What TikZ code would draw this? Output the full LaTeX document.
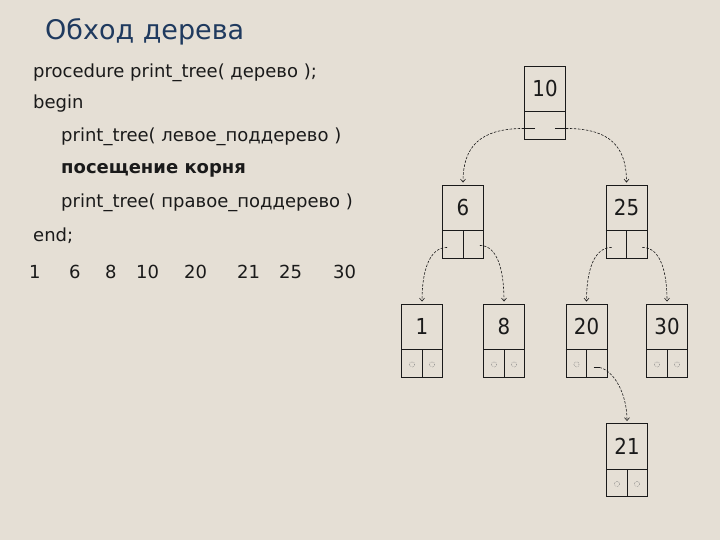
\documentclass[tikz,border=0pt]{standalone}
\usepackage{fontspec}
\setmainfont{DejaVu Sans}
\newfontfamily\numfont{DejaVu Sans}[FakeStretch=0.9]
\usetikzlibrary{arrows.meta,calc}
\definecolor{bg}{HTML}{E5DFD5}
\definecolor{titleblue}{HTML}{1F3A5F}
\definecolor{ink}{HTML}{1A1A1A}
\tikzset{
  tbox/.style={draw=ink, line width=0.9pt, minimum width=41pt, minimum height=73pt, inner sep=0pt},
  boxnum/.style={font=\numfont\fontsize{22}{24}\selectfont, text=ink, inner sep=0pt},
  codeline/.style={anchor=west, font=\fontsize{18}{21}\selectfont, text=ink, inner sep=0pt},
  seqnum/.style={anchor=west, font=\fontsize{18}{20}\selectfont, text=ink, inner sep=0pt},
  conn/.style={draw=ink, line width=0.6pt, dashed, dash pattern=on 2.5pt off 1.5pt, -{Straight Barb[length=3pt,width=5pt]}},
  stub/.style={draw=ink, line width=0.9pt},
  nilmark/.style={draw=ink!60, line width=0.5pt, densely dotted}
}
\begin{document}
\begin{tikzpicture}[x=1pt,y=-1pt]
\fill[bg] (0,0) rectangle (720,540);
\useasboundingbox (0,0) rectangle (720,540);

% title and text
\node[anchor=west, font=\fontsize{27}{30}\selectfont, text=titleblue, inner sep=0pt] (title) at (45,32) {Обход дерева};
\node[codeline] (c1) at (33,73) {procedure print\_tree( дерево );};
\node[codeline] (c2) at (33,104) {begin};
\node[codeline] (c3) at (61,137) {print\_tree( левое\_поддерево )};
\node[codeline, font=\bfseries\fontsize{18}{21}\selectfont] (c4) at (61,170) {посещение корня};
\node[codeline] (c5) at (61,203) {print\_tree( правое\_поддерево )};
\node[codeline] (c6) at (33,236) {end;};

\node[seqnum] (s1) at (29,272) {1};
\node[seqnum] (s2) at (69,272) {6};
\node[seqnum] (s3) at (105,272) {8};
\node[seqnum] (s4) at (136,272) {10};
\node[seqnum] (s5) at (184,272) {20};
\node[seqnum] (s6) at (237,272) {21};
\node[seqnum] (s7) at (279,272) {25};
\node[seqnum] (s8) at (333,272) {30};

% boxes
\node[tbox] (n10) at (545,102.5) {};
\node[tbox] (n6) at (463,221.5) {};
\node[tbox] (n25) at (626.5,221.5) {};
\node[tbox] (n1) at (422,340.5) {};
\node[tbox] (n8) at (504,340.5) {};
\node[tbox] (n20) at (586.5,340.5) {};
\node[tbox] (n30) at (667,340.5) {};
\node[tbox] (n21) at (627,460) {};

\foreach \n/\t in {n10/10,n6/6,n25/25,n1/1,n8/8,n20/20,n30/30,n21/21}{
  \node[boxnum] at ($(\n.north)+(0,23)$) {\t};
  \draw[line width=0.9pt, draw=ink] ($(\n.north west)+(0,46)$) -- ($(\n.north east)+(0,46)$);
}
\foreach \n in {n6,n25,n1,n8,n20,n30,n21}{
  \draw[line width=0.9pt, draw=ink] (\n.south) -- ($(\n.south)+(0,-27)$);
}
% nil marks
\foreach \n in {n1,n8,n30,n21}{
  \draw[nilmark] ($(\n.south)+(-10,-13)$) circle (2.6pt);
  \draw[nilmark] ($(\n.south)+(10,-13)$) circle (2.6pt);
}
\draw[nilmark] ($(n20.south)+(-10,-13)$) circle (2.6pt);

% connector start points
\coordinate (r10L) at ($(n10.south west)+(11,-11)$);
\coordinate (e10L) at (n10.south west |- r10L);
\coordinate (r10R) at ($(n10.south east)+(-11,-11)$);
\coordinate (e10R) at (n10.south east |- r10R);
\coordinate (s6L) at ($(n6.south west)+(5,-11)$);
\coordinate (s6R) at ($(n6.south east)+(-4,-13)$);
\coordinate (s25L) at ($(n25.south west)+(6,-11)$);
\coordinate (s25R) at ($(n25.south east)+(-5,-11)$);
\coordinate (r20R) at ($(n20.south)+(7,-10)$);
\coordinate (s20R) at ($(n20.south)+(13,-10)$);

\draw[stub] (r10L) -- (e10L);
\draw[stub] (r10R) -- (e10R);
\draw[stub] (r20R) -- (s20R);

\draw[conn] (e10L) .. controls +(-45,0) and +(0,-35) .. ($(n6.north)+(0,-2)$);
\draw[conn] (e10R) .. controls +(45,0) and +(0,-35) .. ($(n25.north)+(0,-2)$);
\draw[conn] (s6L) .. controls +(-18,0) and +(0,-30) .. ($(n1.north)+(0,-2)$);
\draw[conn] (s6R) .. controls +(18,0) and +(0,-30) .. ($(n8.north)+(0,-2)$);
\draw[conn] (s25L) .. controls +(-18,0) and +(0,-30) .. ($(n20.north)+(0,-2)$);
\draw[conn] (s25R) .. controls +(18,0) and +(0,-30) .. ($(n30.north)+(0,-2)$);
\draw[conn] (s20R) .. controls +(14,3) and +(0,-28) .. ($(n21.north)+(0,-2)$);
\end{tikzpicture}
\end{document}
